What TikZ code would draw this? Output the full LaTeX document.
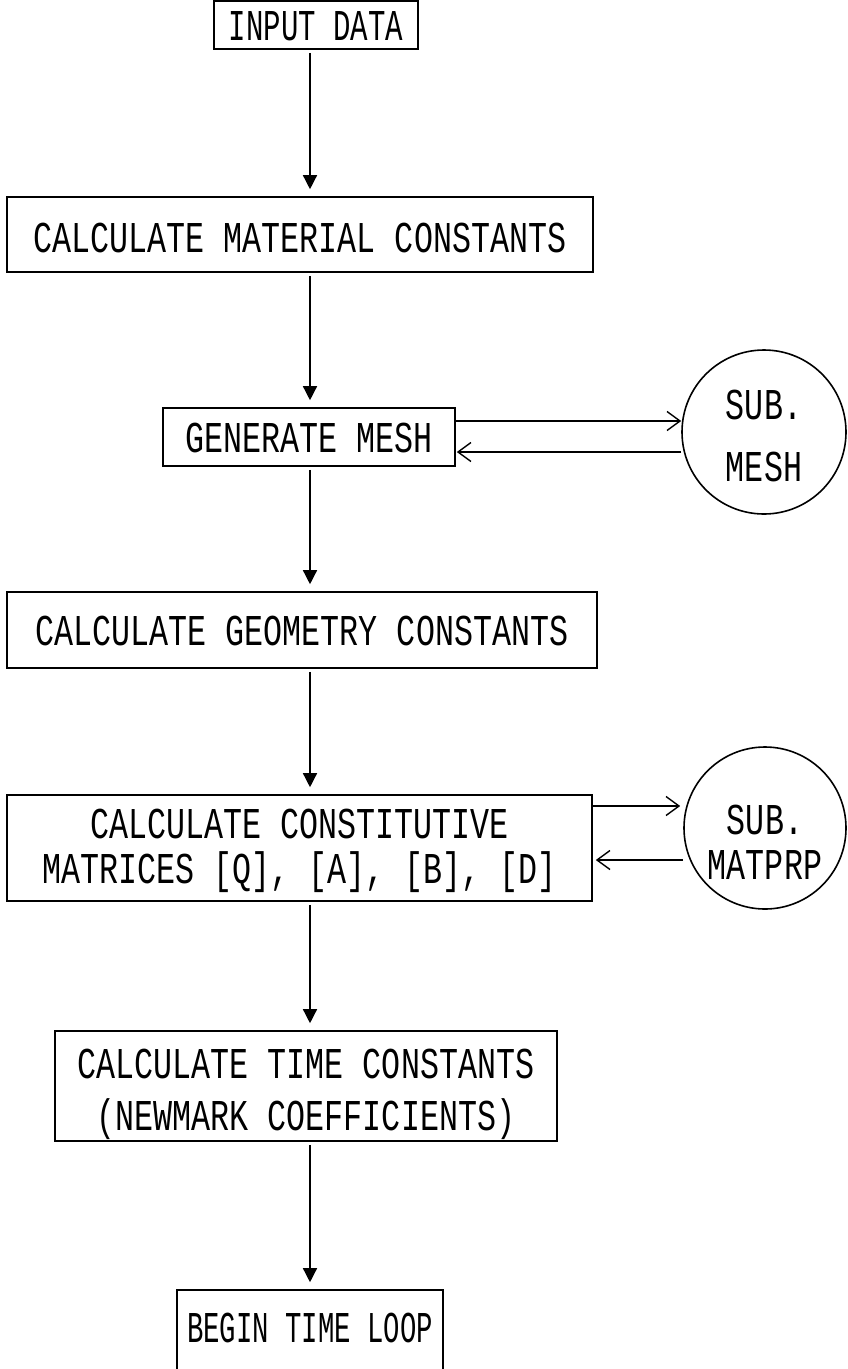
\documentclass[tikz,border=0pt]{standalone}
\usepackage{fontspec}
\newfontfamily\plotfont[FakeStretch=0.72]{Liberation Mono}
\newfontfamily\plotfontn[FakeStretch=0.66]{Liberation Mono}
\newfontfamily\plotfontm[FakeStretch=0.62]{Liberation Mono}
\usetikzlibrary{arrows.meta}
\begin{document}
\begin{tikzpicture}[x=1pt,y=-1pt,
  stepbox/.style={draw, line width=1.6pt, inner sep=0pt},
  subcirc/.style={draw, circle, line width=1.6pt, inner sep=0pt, minimum size=#1},
  txt/.style={font=\plotfont\fontsize{44pt}{52pt}\selectfont, inner sep=0pt, text height=30pt, text depth=0pt},
  txtn/.style={txt, font=\plotfontn\fontsize{44pt}{52pt}\selectfont},
  txtm/.style={txt, font=\plotfontm\fontsize{44pt}{52pt}\selectfont},
  flow/.style={line width=1.4pt, -{Triangle[length=14pt,width=14pt]}, shorten >=7pt, shorten <=3pt},
  side/.style={line width=1.4pt, -{Straight Barb[length=13pt,width=19pt,line width=1.4pt]}},
]
\useasboundingbox (0,0) rectangle (847,1369);
\coordinate (spine) at (310,0);

% boxes
\node[stepbox, minimum width=204pt, minimum height=48pt] (b1) at (316,25) {};
\node[txtn] (t1) at (b1.center) {INPUT DATA};

\node[stepbox, minimum width=586pt, minimum height=75pt] (b2) at (300,234.5) {};
\node[txt] (t2) at (300,237) {CALCULATE MATERIAL CONSTANTS};

\node[stepbox, minimum width=292pt, minimum height=58pt] (b3) at (309,437) {};
\node[txt] (t3) at (b3.center) {GENERATE MESH};

\node[subcirc=164pt] (c1) at (764,432) {};
\node[txt] (c1a) at (764,404) {SUB.};
\node[txt] (c1b) at (764,466) {MESH};

\node[stepbox, minimum width=590pt, minimum height=76pt] (b4) at (302,630) {};
\node[txt] (t4) at (b4.center) {CALCULATE GEOMETRY CONSTANTS};

\node[stepbox, minimum width=585pt, minimum height=106pt] (b5) at (299.5,848) {};
\node[txt] (t5a) at (299.5,823) {CALCULATE CONSTITUTIVE};
\node[txt] (t5b) at (299.5,868) {MATRICES [Q], [A], [B], [D]};

\node[subcirc=162pt] (c2) at (765,828) {};
\node[txt] (c2a) at (765,819) {SUB.};
\node[txt] (c2b) at (765,864) {MATPRP};

\node[stepbox, minimum width=502pt, minimum height=110pt] (b6) at (306,1086) {};
\node[txt] (t6a) at (306,1063) {CALCULATE TIME CONSTANTS};
\node[txt] (t6b) at (306,1115) {(NEWMARK COEFFICIENTS)};

\node[stepbox, minimum width=266pt, minimum height=90pt] (b7) at (310,1335) {};
\node[txtm] (t7) at (310,1327) {BEGIN TIME LOOP};

% main flow
\draw[flow] (b1.south -| spine) -- (b2.north -| spine);
\draw[flow] (b2.south -| spine) -- (b3.north -| spine);
\draw[flow] (b3.south -| spine) -- (b4.north -| spine);
\draw[flow] (b4.south -| spine) -- (b5.north -| spine);
\draw[flow] (b5.south -| spine) -- (b6.north -| spine);
\draw[flow] (b6.south -| spine) -- (b7.north -| spine);

% subroutine calls
\coordinate (m3t) at ([yshift=16pt]b3.east);
\coordinate (m3b) at ([yshift=-15pt]b3.east);
\draw[side] (m3t) -- (m3t -| c1.west);
\draw[side, shorten >=1pt] (m3b -| c1.west) -- (m3b);

\coordinate (m5t) at ([yshift=42pt]b5.east);
\coordinate (m5b) at ([yshift=-12pt]b5.east);
\draw[side, shorten >=3pt] (m5t) -- (m5t -| c2.west);
\draw[side, shorten >=3pt] (m5b -| c2.west) -- (m5b);
\end{tikzpicture}
\end{document}
